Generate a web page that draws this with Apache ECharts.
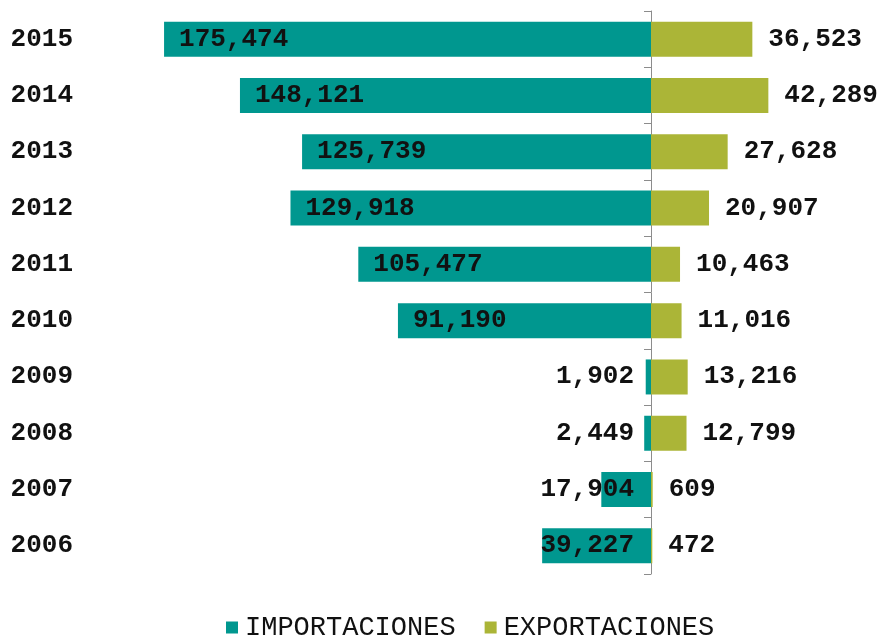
<!DOCTYPE html>
<html>
<head>
    <meta charset="utf-8">
    <script src="https://cdn.jsdelivr.net/npm/echarts@6/dist/echarts.min.js"></script>
</head>
<body style="margin:0">
<div style="width: 882px;height: 635px;" id="chart"></div>
<script>

let chart = echarts.init(document.getElementById('chart'));

let years = ['2015', '2014', '2013', '2012', '2011', '2010', '2009', '2008', '2007', '2006'];
let importaciones = [175474, 148121, 125739, 129918, 105477, 91190, 1902, 2449, 17904, 39227];
let exportaciones = [36523, 42289, 27628, 20907, 10463, 11016, 13216, 12799, 609, 472];

let font = '"Liberation Mono", "DejaVu Sans Mono", monospace';
let fmt = v => Math.abs(v).toLocaleString('en-US');

// small import bars get their label right-aligned near the axis
let impData = importaciones.map(v => {
    let item = {value: -v};
    if (v < 50000) {
        item.label = {position: 'insideRight', distance: 17};
    }
    return item;
});

let option = {
    animation: false,
    grid: {
        left: 96,
        top: 11,
        width: 777,
        height: 563
    },
    legend: {
        left: 221,
        top: 609,
        icon: 'rect',
        itemWidth: 12,
        itemHeight: 12,
        itemGap: 29,
        textStyle: {
            fontFamily: font,
            fontSize: 27,
            color: '#111',
            lineHeight: 26,
            padding: [0, 0, 0, 2]
        },
        data: ['IMPORTACIONES', 'EXPORTACIONES']
    },
    xAxis: {
        type: 'value',
        min: -200000,
        max: 80000,
        show: false
    },
    yAxis: [{
        // year labels at the left edge
        type: 'category',
        inverse: true,
        data: years,
        position: 'left',
        axisLine: {show: false, onZero: false},
        axisTick: {show: false},
        axisLabel: {
            margin: 23,
            fontFamily: font,
            fontWeight: 'bold',
            fontSize: 26,
            color: '#111'
        }
    }, {
        // axis line with ticks on zero
        type: 'category',
        inverse: true,
        data: years,
        position: 'left',
        axisLine: {show: true, onZero: true, onZeroAxisIndex: 0, lineStyle: {color: '#8c8c8c', width: 1}},
        axisTick: {show: true, length: 7, lineStyle: {color: '#8c8c8c'}},
        axisLabel: {show: false}
    }],
    series: [{
        name: 'IMPORTACIONES',
        type: 'bar',
        stack: 'total',
        barWidth: 35,
        itemStyle: {color: '#00978f'},
        label: {
            show: true,
            position: 'insideLeft',
            distance: 15,
            formatter: p => fmt(p.value),
            fontFamily: font,
            fontWeight: 'bold',
            fontSize: 26,
            color: '#111'
        },
        data: impData
    }, {
        name: 'EXPORTACIONES',
        type: 'bar',
        stack: 'total',
        barWidth: 35,
        itemStyle: {color: '#abb537'},
        label: {
            show: true,
            position: 'right',
            distance: 16,
            formatter: p => fmt(p.value),
            fontFamily: font,
            fontWeight: 'bold',
            fontSize: 26,
            color: '#111'
        },
        data: exportaciones
    }]
};

chart.setOption(option);

</script>
</body>
</html>
